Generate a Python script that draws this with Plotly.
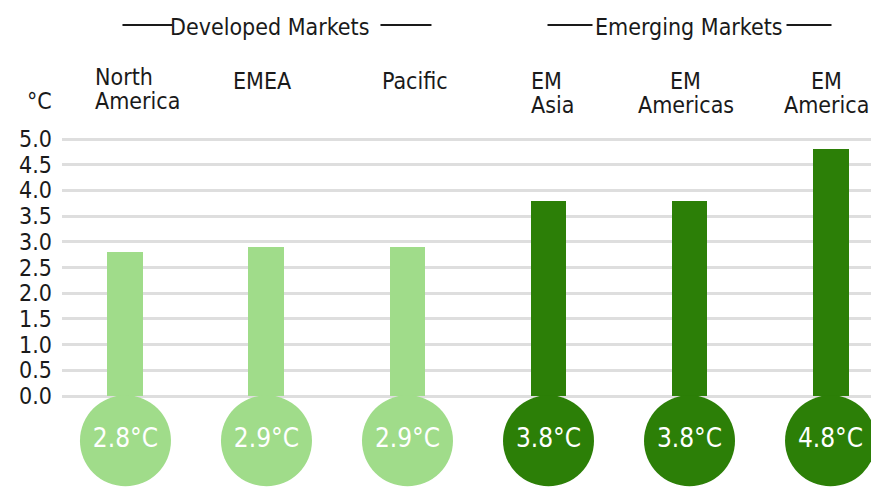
import plotly.graph_objects as go

# ---- data -------------------------------------------------------------
regions = ["North\nAmerica", "EMEA", "Pacific", "EM\nAsia", "EM\nAmericas", "EM\nAmerica"]
groups = ["Developed Markets", "Developed Markets", "Developed Markets",
          "Emerging Markets", "Emerging Markets", "Emerging Markets"]
warming = [2.8, 2.9, 2.9, 3.8, 3.8, 4.8]
y_ticks = [0.0, 0.5, 1.0, 1.5, 2.0, 2.5, 3.0, 3.5, 4.0, 4.5, 5.0]

# ---- style ------------------------------------------------------------
W, H = 871, 487
FONT = "DejaVu Sans Condensed, Liberation Sans Narrow, sans-serif"
INK = "#1a1a1a"
GROUP_COLOR = {"Developed Markets": "#a0dc8a", "Emerging Markets": "#2c7f07"}
BAR_WIDTH = 0.255
BULB_Y = -0.87          # bulb centre, in axis units below zero
BULB_SIZE = 91          # bulb diameter, px
X_RANGE = [-0.45, 5.287]
Y_RANGE = [-1.77, 7.704]
MARGIN_L = 62

# per-label text placement: (anchor, pixel shift, vertical nudge)
LABEL_STYLE = {
    "North\nAmerica": ("left", -32, -4),
    "EMEA": ("center", -4, 0),
    "Pacific": ("center", 8, 0),
    "EM\nAsia": ("left", -20, 0),
    "EM\nAmericas": ("center", -4, 0),
    "EM\nAmerica": ("center", -4, 0),
}
# header rule offsets (px) around each group title centre
HEADER_RULES = {
    "Developed Markets": (1, 3, [(-147, -97), (111, 162)]),
    "Emerging Markets": (4, -1, [(-141, -96), (98, 143)]),
}


def py(px):
    """pixel row -> paper y"""
    return 1 - px / H


idx = list(range(len(regions)))
colors = [GROUP_COLOR[g] for g in groups]

fig = go.Figure()

# thermometer stems
fig.add_trace(go.Bar(
    x=idx, y=warming, width=BAR_WIDTH,
    marker=dict(color=colors, line=dict(width=0)),
    hoverinfo="skip", showlegend=False,
))

# thermometer bulbs with value labels
fig.add_trace(go.Scatter(
    x=idx, y=[BULB_Y] * len(idx), mode="markers+text",
    marker=dict(size=BULB_SIZE, color=colors, line=dict(width=0)),
    text=[f"{v:.1f}°C" for v in warming],
    textposition="middle center",
    textfont=dict(family=FONT, size=26, color="white"),
    cliponaxis=False, hoverinfo="skip", showlegend=False,
))

annotations = []
shapes = []

# region labels, one annotation per text line
for i, name in enumerate(regions):
    anchor, xs, nudge = LABEL_STYLE[name]
    for k, line in enumerate(name.split("\n")):
        annotations.append(dict(
            x=i, xref="x", y=py(81 + 24 * k + nudge), yref="paper",
            text=line, showarrow=False, xanchor=anchor, yanchor="middle",
            xshift=xs, font=dict(family=FONT, size=23, color=INK),
        ))

# group headers with rules on either side
for title, (centre, shift, rules) in HEADER_RULES.items():
    annotations.append(dict(
        x=centre, xref="x", y=py(27), yref="paper", text=title,
        showarrow=False, xanchor="center", yanchor="middle", xshift=shift,
        font=dict(family=FONT, size=23, color=INK),
    ))
    for a, b in rules:
        shapes.append(dict(
            type="line", xref="x", xsizemode="pixel", xanchor=centre,
            x0=a + shift, x1=b + shift, yref="paper", y0=py(25), y1=py(25),
            line=dict(color=INK, width=2),
        ))

# unit label
annotations.append(dict(
    x=(39 - MARGIN_L) / (W - MARGIN_L), xref="paper", y=py(101), yref="paper",
    text="°C", showarrow=False, xanchor="center", yanchor="middle",
    font=dict(family=FONT, size=23, color=INK),
))

fig.update_layout(
    width=W, height=H,
    margin=dict(l=MARGIN_L, r=0, t=0, b=0),
    paper_bgcolor="white", plot_bgcolor="white",
    font=dict(family=FONT),
    bargap=0,
    annotations=annotations, shapes=shapes,
    xaxis=dict(range=X_RANGE, showgrid=False, zeroline=False,
               showticklabels=False, showline=False, fixedrange=True),
    yaxis=dict(range=Y_RANGE, tickvals=y_ticks,
               ticktext=[f"{t:.1f}" for t in y_ticks],
               showgrid=True, gridcolor="#dedede", gridwidth=3,
               zeroline=False, showline=False, ticks="",
               ticklabelstandoff=9,
               tickfont=dict(family=FONT, size=23, color=INK),
               fixedrange=True),
)

fig.write_html("out.html")
